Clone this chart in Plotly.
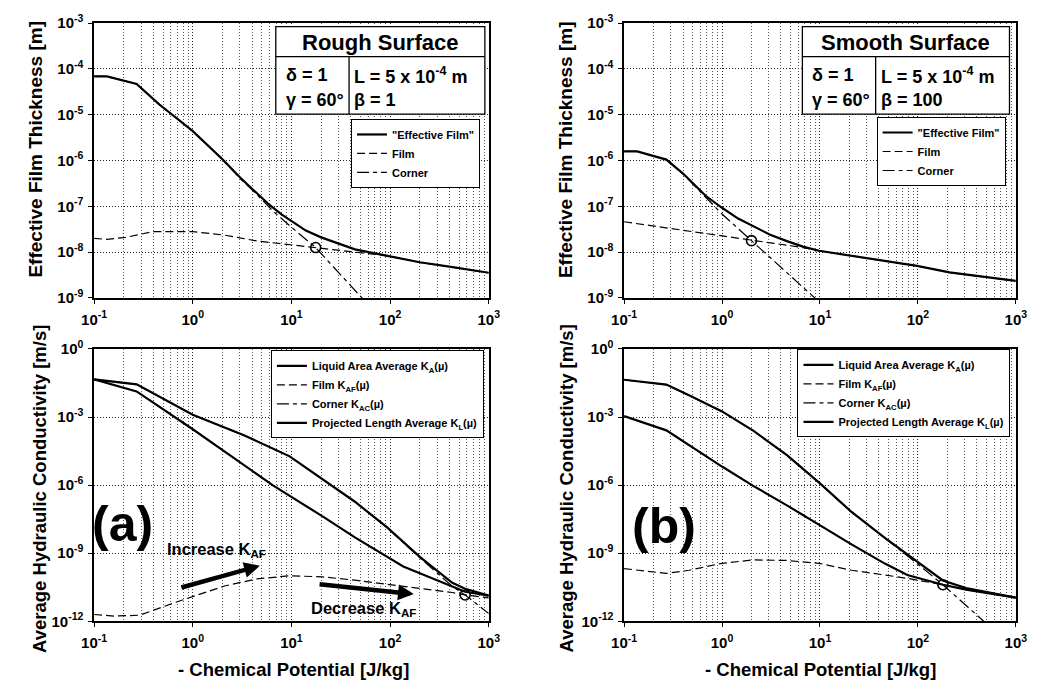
import plotly.graph_objects as go

W, H = 1041, 694
FONT = "Liberation Sans, Arial, Helvetica, sans-serif"

# ---------------- DATA ----------------
# Top-left: Rough surface (effective film thickness, m)
rough_eff_mu = [0.1, 0.135, 0.27, 0.46, 0.62, 1, 2, 3, 4.5, 6, 8, 10, 14, 20, 44, 94, 200, 430, 1000]
rough_eff = [6.9e-5, 6.9e-5, 4.7e-5, 1.66e-5, 1.0e-5, 4.4e-6, 1.07e-6, 4.3e-7, 1.9e-7, 1.07e-7,
             6.6e-8, 4.8e-8, 2.95e-8, 2.1e-8, 1.15e-8, 8.3e-9, 6.0e-9, 4.7e-9, 3.55e-9]
rough_film_mu = [0.1, 0.135, 0.21, 0.39, 1, 2.1, 4.5, 9.6, 17.6, 44, 94, 200, 430, 1000]
rough_film = [2.0e-8, 1.9e-8, 2.1e-8, 2.8e-8, 2.8e-8, 2.35e-8, 1.75e-8, 1.45e-8, 1.26e-8, 1.02e-8,
              8.3e-9, 6.0e-9, 4.7e-9, 3.55e-9]
rough_corner_mu = [0.1, 0.135, 0.27, 0.46, 0.62, 1, 2, 3, 4.5, 6.5, 10, 17.6, 60]
rough_corner = [6.9e-5, 6.9e-5, 4.7e-5, 1.66e-5, 1.0e-5, 4.4e-6, 1.05e-6, 4.1e-7, 1.78e-7, 7.9e-8,
                3.5e-8, 1.26e-8, 7.1e-10]
rough_cross = ([17.6], [1.26e-8])

# Top-right: Smooth surface
smooth_eff_mu = [0.1, 0.136, 0.27, 0.4, 0.68, 1, 1.46, 2.15, 3.1, 4.6, 6.7, 9.8, 21, 46, 98, 210, 450, 1000]
smooth_eff = [1.58e-6, 1.58e-6, 1.05e-6, 5.2e-7, 1.7e-7, 9.3e-8, 5.4e-8, 3.6e-8, 2.4e-8, 1.74e-8,
              1.32e-8, 1.07e-8, 8.3e-9, 6.5e-9, 5.0e-9, 3.6e-9, 2.9e-9, 2.35e-9]
smooth_film_mu = [0.1, 1, 2, 6.7, 9.8, 21, 46, 98, 210, 450, 1000]
smooth_film = [4.6e-8, 2.25e-8, 1.78e-8, 1.26e-8, 1.07e-8, 8.3e-9, 6.5e-9, 5.0e-9, 3.6e-9, 2.9e-9, 2.35e-9]
smooth_corner_mu = [0.1, 0.136, 0.27, 0.4, 0.68, 1, 2, 4.6, 8.5, 10]
smooth_corner = [1.58e-6, 1.58e-6, 1.05e-6, 5.1e-7, 1.58e-7, 6.8e-8, 1.78e-8, 3.5e-9, 1.07e-9, 7.9e-10]
smooth_cross = ([2], [1.78e-8])

# Bottom-left (a): hydraulic conductivity, rough surface (m/s)
a_KA_mu = [0.1, 0.27, 1, 3.3, 9.6, 20.5, 44, 94, 200, 427, 576, 1000]
a_KA = [4.6e-2, 2.75e-2, 1.26e-3, 1.58e-4, 1.86e-5, 1.86e-6, 1.86e-7, 1.35e-8, 6.9e-10, 5.0e-11,
        2.7e-11, 1.35e-11]
a_KAF_mu = [0.1, 0.158, 0.29, 0.67, 2.1, 4.47, 9.6, 20.5, 44, 94, 200, 427, 576, 1000]
a_KAF = [2.0e-12, 1.7e-12, 1.86e-12, 6.9e-12, 3.6e-11, 7.4e-11, 1.02e-10, 9.1e-11, 6.5e-11,
         4.3e-11, 2.75e-11, 1.86e-11, 1.45e-11, 1.07e-11]
a_KAC_mu = [0.1, 0.27, 1, 3.3, 9.6, 20.5, 44, 94, 200, 427, 576, 1000]
a_KAC = [4.6e-2, 2.75e-2, 1.26e-3, 1.58e-4, 1.86e-5, 1.86e-6, 1.85e-7, 1.3e-8, 6.3e-10, 3.5e-11,
         1.45e-11, 2.2e-12]
a_KL_mu = [0.1, 0.27, 1, 6.5, 20.5, 44, 136, 292, 576, 1000]
a_KL = [4.6e-2, 1.35e-2, 2.9e-4, 9.8e-7, 4.3e-8, 5.0e-9, 2.6e-10, 6.9e-11, 2.0e-11, 1.35e-11]
a_cross = ([576], [1.45e-11])

# Bottom-right (b): hydraulic conductivity, smooth surface (m/s)
b_KA_mu = [0.1, 0.27, 0.46, 1, 2.1, 4.6, 9.8, 21, 46, 98, 180, 310, 1000]
b_KA = [4.4e-2, 2.7e-2, 9.1e-3, 1.78e-3, 2.45e-4, 2.1e-5, 1.29e-6, 6.6e-8, 4.7e-9, 4.1e-10,
        6.3e-11, 2.9e-11, 1.1e-11]
b_KAF_mu = [0.1, 0.27, 0.46, 1, 2.1, 4.6, 9.8, 21, 46, 78, 180, 310, 1000]
b_KAF = [2.1e-10, 1.29e-10, 1.78e-10, 3.6e-10, 5.1e-10, 4.8e-10, 3.6e-10, 1.78e-10, 1.1e-10,
         7.8e-11, 4.1e-11, 2.5e-11, 1.1e-11]
b_KAC_mu = [0.1, 0.27, 0.46, 1, 2.1, 4.6, 9.8, 21, 46, 98, 180, 446, 500]
b_KAC = [4.4e-2, 2.7e-2, 9.1e-3, 1.78e-3, 2.45e-4, 2.1e-5, 1.29e-6, 6.6e-8, 4.6e-9, 3.55e-10,
         4.1e-11, 1.29e-12, 7.9e-13]
b_KL_mu = [0.1, 0.27, 1, 2.1, 4.6, 9.8, 21, 46, 78, 180, 310, 1000]
b_KL = [1.1e-3, 2.6e-4, 6.6e-6, 9.1e-7, 1.29e-7, 1.78e-8, 2.45e-9, 3.5e-10, 1.1e-10, 4.1e-11,
        2.5e-11, 1.1e-11]
b_cross = ([180], [4.1e-11])

x_ticks = [0.1, 1, 10, 100, 1000]
x_ticktext = ["10<sup>-1</sup>", "10<sup>0</sup>", "10<sup>1</sup>", "10<sup>2</sup>", "10<sup>3</sup>"]
top_y_ticks = [1e-9, 1e-8, 1e-7, 1e-6, 1e-5, 1e-4, 1e-3]
top_y_text = ["10<sup>-9</sup>", "10<sup>-8</sup>", "10<sup>-7</sup>", "10<sup>-6</sup>",
              "10<sup>-5</sup>", "10<sup>-4</sup>", "10<sup>-3</sup>"]
bot_y_ticks = [1e-12, 1e-9, 1e-6, 1e-3, 1]
bot_y_text = ["10<sup>-12</sup>", "10<sup>-9</sup>", "10<sup>-6</sup>", "10<sup>-3</sup>", "10<sup>0</sup>"]

# ---------------- FIGURE ----------------
def px(x):
    return x / W


def py(y):
    return 1 - y / H


fig = go.Figure()

EFF = dict(color="black", width=2.2)
FILM = dict(color="black", width=1.2, dash="8px,4px")
CORN = dict(color="black", width=1.2, dash="12px,4px,4px,4px")


def add_line(x, y, name, line, ax, leg, show=True):
    fig.add_trace(go.Scatter(x=x, y=y, mode="lines", name=name, line=line,
                             xaxis="x" + ax, yaxis="y" + ax, legend=leg, showlegend=show))


def add_cross(pt, ax):
    fig.add_trace(go.Scatter(x=pt[0], y=pt[1], mode="markers", showlegend=False,
                             marker=dict(symbol="circle-open", size=10, color="black",
                                         line=dict(width=1.6, color="black")),
                             xaxis="x" + ax, yaxis="y" + ax))


# top-left
add_line(rough_eff_mu, rough_eff, "\"Effective Film\"", EFF, "", "legend")
add_line(rough_film_mu, rough_film, "Film", FILM, "", "legend")
add_line(rough_corner_mu, rough_corner, "Corner", CORN, "", "legend")
add_cross(rough_cross, "")
# top-right
add_line(smooth_eff_mu, smooth_eff, "\"Effective Film\"", EFF, "2", "legend2")
add_line(smooth_film_mu, smooth_film, "Film", FILM, "2", "legend2")
add_line(smooth_corner_mu, smooth_corner, "Corner", CORN, "2", "legend2")
add_cross(smooth_cross, "2")
# bottom-left
add_line(a_KA_mu, a_KA, "Liquid Area Average K<sub>A</sub>(µ)", EFF, "3", "legend3")
add_line(a_KAF_mu, a_KAF, "Film K<sub>AF</sub>(µ)", FILM, "3", "legend3")
add_line(a_KAC_mu, a_KAC, "Corner K<sub>AC</sub>(µ)", CORN, "3", "legend3")
add_line(a_KL_mu, a_KL, "Projected Length Average K<sub>L</sub>(µ)", EFF, "3", "legend3")
add_cross(a_cross, "3")
# bottom-right
add_line(b_KA_mu, b_KA, "Liquid Area Average K<sub>A</sub>(µ)", EFF, "4", "legend4")
add_line(b_KAF_mu, b_KAF, "Film K<sub>AF</sub>(µ)", FILM, "4", "legend4")
add_line(b_KAC_mu, b_KAC, "Corner K<sub>AC</sub>(µ)", CORN, "4", "legend4")
add_line(b_KL_mu, b_KL, "Projected Length Average K<sub>L</sub>(µ)", EFF, "4", "legend4")
add_cross(b_cross, "4")

minor_x = [m * 10 ** e for e in range(-1, 3) for m in range(2, 10)]
TICKFONT = dict(family=FONT, size=15, color="black", weight="bold")
GRID = dict(showgrid=True, gridcolor="#222", griddash="1px,2px", gridwidth=1)


def xaxis(dom, anchor):
    return dict(type="log", range=[-1, 3], domain=dom, anchor=anchor,
                tickmode="array", tickvals=x_ticks, ticktext=x_ticktext,
                showline=True, linecolor="black", linewidth=1.5, mirror=True,
                ticks="outside", ticklen=4, tickcolor="black", ticklabelstandoff=3,
                tickfont=TICKFONT, zeroline=False, **GRID,
                minor=dict(tickmode="array", tickvals=minor_x, showgrid=True,
                           gridcolor="#555", griddash="1px,2px", gridwidth=1, ticks=""))


def yaxis(dom, anchor, rng, tv, tt):
    return dict(type="log", range=rng, domain=dom, anchor=anchor,
                tickmode="array", tickvals=tv, ticktext=tt,
                showline=True, linecolor="black", linewidth=1.5, mirror=True,
                ticks="outside", ticklen=4, tickcolor="black", ticklabelstandoff=2,
                tickfont=TICKFONT, zeroline=False, **GRID)


XL = [px(83), px(487)]
XR = [px(625.5), px(1026.5)]
YT = [py(295), py(12.5)]
YB = [py(627.5), py(347.5)]

leg_common = dict(bgcolor="white", bordercolor="black", borderwidth=1, xanchor="left",
                  yanchor="top", font=dict(family=FONT, size=11, color="black", weight="bold"),
                  tracegroupgap=0, itemwidth=30)

fig.update_layout(
    width=W, height=H, margin=dict(l=0, r=0, t=0, b=0),
    paper_bgcolor="white", plot_bgcolor="white",
    font=dict(family=FONT, color="black"),
    xaxis=xaxis(XL, "y"), yaxis=yaxis(YT, "x", [-9, -3], top_y_ticks, top_y_text),
    xaxis2=xaxis(XR, "y2"), yaxis2=yaxis(YT, "x2", [-9, -3], top_y_ticks, top_y_text),
    xaxis3=xaxis(XL, "y3"), yaxis3=yaxis(YB, "x3", [-12, 0], bot_y_ticks, bot_y_text),
    xaxis4=xaxis(XR, "y4"), yaxis4=yaxis(YB, "x4", [-12, 0], bot_y_ticks, bot_y_text),
    legend=dict(x=px(346), y=py(111), **leg_common),
    legend2=dict(x=px(884), y=py(109), **leg_common),
    legend3=dict(x=px(264), y=py(349), **leg_common),
    legend4=dict(x=px(803), y=py(348), **leg_common),
)

shapes = []
annotations = []


def rect(x0, y0, x1, y1):
    shapes.append(dict(type="rect", xref="paper", yref="paper", x0=px(x0), x1=px(x1),
                       y0=py(y1), y1=py(y0), fillcolor="white",
                       line=dict(color="black", width=1.3), layer="above"))


def hline(x0, x1, y):
    shapes.append(dict(type="line", xref="paper", yref="paper", x0=px(x0), x1=px(x1),
                       y0=py(y), y1=py(y), line=dict(color="black", width=1.3), layer="above"))


def vline(x, y0, y1):
    shapes.append(dict(type="line", xref="paper", yref="paper", x0=px(x), x1=px(x),
                       y0=py(y0), y1=py(y1), line=dict(color="black", width=1.3), layer="above"))


def text(x, y, s, size, xanchor="center", angle=0):
    annotations.append(dict(xref="paper", yref="paper", x=px(x), y=py(y), text=s,
                            showarrow=False, xanchor=xanchor, yanchor="middle",
                            textangle=angle,
                            font=dict(family=FONT, size=size, color="black", weight="bold")))


# Parameter boxes
for (bx0, bx1, div, title, beta) in [(269, 483, 344, "Rough Surface", "β = 1"),
                                     (808, 1020, 883, "Smooth Surface", "β = 100")]:
    rect(bx0, 16, bx1, 106)
    hline(bx0, bx1, 47)
    vline(div, 47, 106)
    text((bx0 + bx1) / 2, 32, title, 22)
    text(bx0 + 8, 66, "δ = 1", 18, "left")
    text(bx0 + 8, 91, "γ = 60°", 18, "left")
    text(div + 3, 66, "L = 5 x 10<sup>-4</sup> m", 18, "left")
    text(div + 3, 91, beta, 18, "left")

# Axis titles
text(23, 142, "Effective Film Thickness [m]", 19, angle=-90)
text(565, 142, "Effective Film Thickness [m]", 19, angle=-90)
text(27, 491, "Average Hydraulic Conductivity [m/s]", 18.5, angle=-90)
text(567, 491, "Average Hydraulic Conductivity [m/s]", 18.5, angle=-90)
text(287, 677, "- Chemical Potential [J/kg]", 18.5)
text(827, 677, "- Chemical Potential [J/kg]", 18.5)

# Panel labels
text(112, 527, "(a)", 50)
text(666, 529, "(b)", 50)
text(208, 554, "Increase K<sub>AF</sub>", 16.5)
text(359, 615, "Decrease K<sub>AF</sub>", 16.5)

# Arrows in panel (a) (log10 coordinates)
for (tx, ty, hx, hy) in [(-0.13, -10.53, 0.68, -9.55), (1.27, -10.36, 2.24, -10.80)]:
    annotations.append(dict(xref="x3", yref="y3", axref="x3", ayref="y3",
                            x=hx, y=hy, ax=tx, ay=ty, text="", showarrow=True,
                            arrowhead=2, arrowsize=0.7, arrowwidth=4.5, arrowcolor="black"))

fig.update_layout(shapes=shapes, annotations=annotations)
fig.write_html("out.html")
